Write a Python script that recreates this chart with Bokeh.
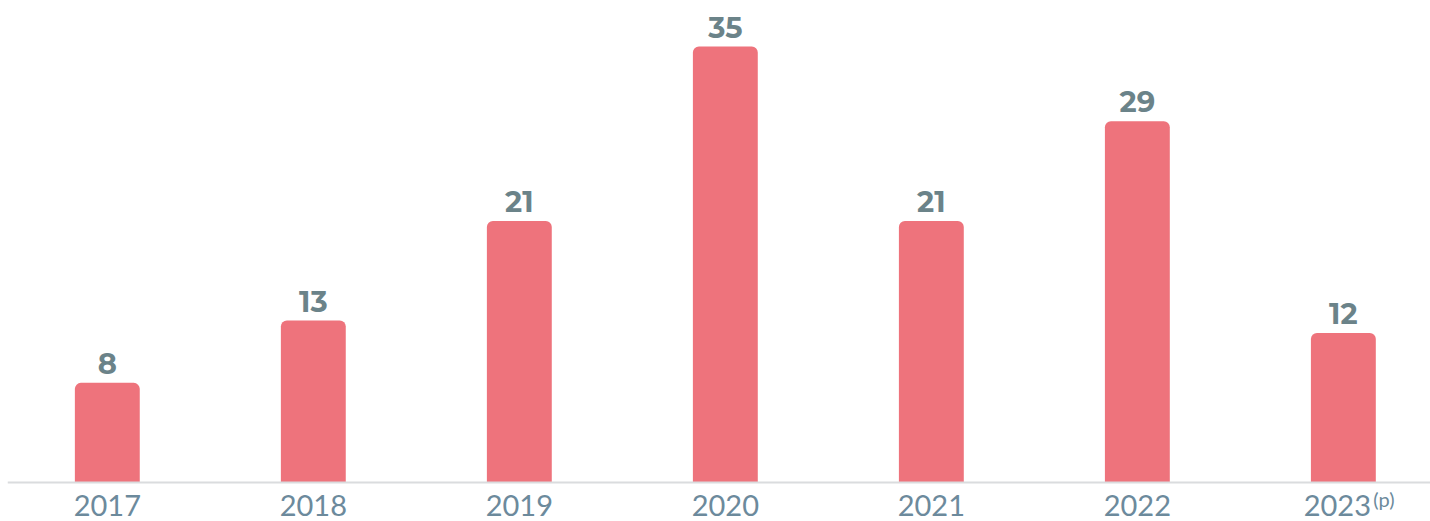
from bokeh.plotting import figure
from bokeh.models import ColumnDataSource, Span
from bokeh.core.properties import value
from bokeh.embed import file_html
from bokeh.resources import INLINE

years = ["2017", "2018", "2019", "2020", "2021", "2022", "2023"]
counts = [8, 13, 21, 35, 21, 29, 12]
year_notes = ["", "", "", "", "", "", "(p)"]

BAR = "#EE737C"
VAL_COLOR = "#6B8389"
YEAR_COLOR = "#6C8A9C"

xs = list(range(len(years)))
# a year carrying a note is nudged left so year + note sit centred together
shift = [-6 if n else 0 for n in year_notes]
src = ColumnDataSource(dict(x=xs, top=counts, label=[str(v) for v in counts],
                            year=years, note=year_notes, shift=shift))

p = figure(width=1430, height=521, output_backend="svg", toolbar_location=None,
           x_range=(-0.4845, 6.423), y_range=(-3.13, 38.7),
           min_border=0, min_border_left=7, outline_line_color=None)
p.axis.visible = False
p.grid.visible = False
p.background_fill_color = "white"
p.border_fill_color = "white"

p.vbar(x="x", top="top", bottom=0, width=0.315, source=src,
       fill_color=BAR, line_color=None, border_radius=(6, 6, 0, 0))

p.add_layout(Span(location=0, dimension="width", line_color="#DADCDE", line_width=2))

# value labels above bars
p.text(x="x", y="top", text="label", source=src, text_align="center",
       text_baseline="bottom", y_offset=-9, text_font=value("Montserrat, Lato"),
       text_font_style="bold", text_font_size="29px", text_color=VAL_COLOR)

# year labels under the baseline
p.text(x="x", y=0, text="year", source=src, text_align="center",
       text_baseline="bottom", x_offset="shift", y_offset=33, text_font=value("Lato"),
       text_font_size="29px", text_color=YEAR_COLOR)

# small superscript note after the last year
p.text(x="x", y=0, text="note", source=src, text_align="left",
       text_baseline="top", x_offset=30, y_offset=4, text_font=value("Lato"),
       text_font_size="20px", text_color=YEAR_COLOR)

open("out.html", "w").write(file_html(p, INLINE))
